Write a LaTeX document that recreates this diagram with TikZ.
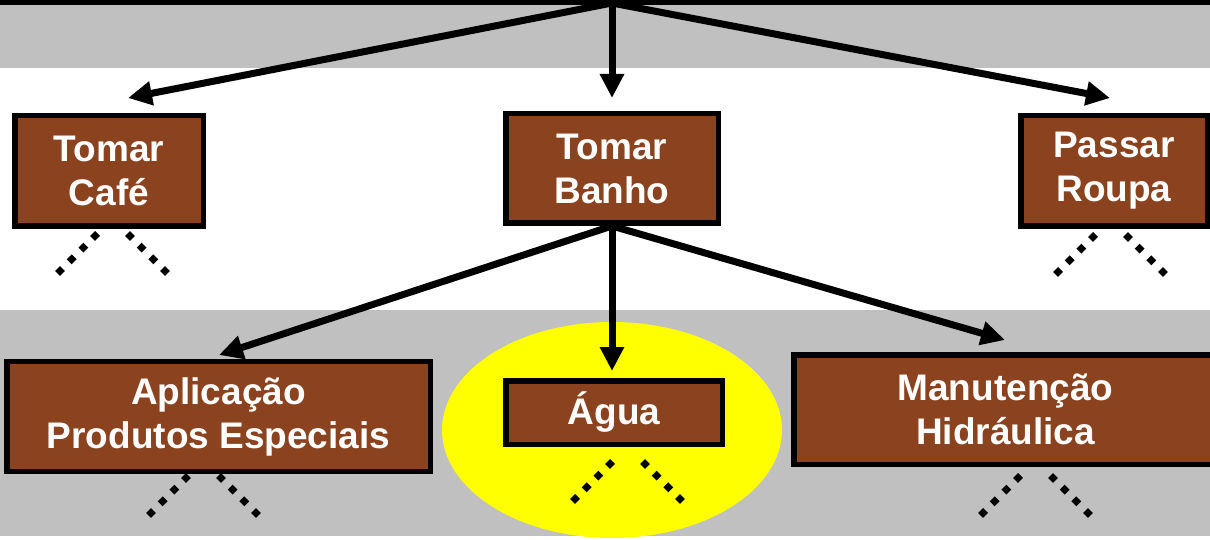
\documentclass[tikz,border=0pt]{standalone}
\usepackage{fontspec}
\setmainfont{Liberation Sans}
\usetikzlibrary{arrows.meta}
\definecolor{bandgray}{RGB}{192,192,192}
\definecolor{boxbrown}{RGB}{139,67,31}
\definecolor{hiyellow}{RGB}{255,255,0}
\newcommand\dotvee[2]{%
  \draw[dotline] (#1+2.5,#2-2.5) -- ++(-40,40);
  \draw[dotline] (#1+32.5,#2-2.5) -- ++(40,40);}
\begin{document}
\begin{tikzpicture}[x=1pt,y=-1pt,
  box/.style={draw=black, line width=5.5pt, fill=boxbrown, text=white,
    font=\bfseries\fontsize{37}{44}\selectfont, align=center, inner sep=0pt},
  conn/.style={line width=7pt, -{Triangle[length=24pt,width=23pt]}},
  dotline/.style={line width=7pt, dash pattern=on 7pt off 9.5pt, line cap=butt}]
\useasboundingbox (0,0) rectangle (1210,540);
\fill[white] (0,0) rectangle (1210,540);
\fill[bandgray] (0,5) rectangle (1210,68);
\fill[bandgray] (0,310) rectangle (1210,536);
\fill[black] (0,0) rectangle (1210,5);
\fill[hiyellow] (612,430) ellipse [x radius=170pt, y radius=108pt];

\node[box, minimum width=188.5pt, minimum height=110.5pt] (cafe) at (109,171) {Tomar\\Café};
\node[box, minimum width=212.5pt, minimum height=109.5pt] (banho) at (612,168.5) {Tomar\\Banho};
\node[box, minimum width=186.5pt, minimum height=110.5pt] (roupa) at (1114,171) {Passar\\Roupa};
\node[box, minimum width=423.5pt, minimum height=110pt] (aplic) at (218.5,416.5) {Aplicação\\Produtos Especiais};
\node[box, minimum width=216.5pt, minimum height=63.5pt] (agua) at (614,412.5) {Água};
\node[box, minimum width=423.5pt, minimum height=109.5pt] (manut) at (1005.5,409.5) {Manutenção\\Hidráulica};

\coordinate (top) at (612,3);
\coordinate (tcafe) at (128,98);
\coordinate (tbanho) at (612,98);
\coordinate (troupa) at (1110,98);
\coordinate (taplic) at (219,355);
\coordinate (tagua) at (612,371);
\coordinate (tmanut) at (1005,340);

\draw[conn] (top) -- (tcafe);
\draw[conn] (top) -- (tbanho);
\draw[conn] (top) -- (troupa);
\draw[conn] (banho.south) -- (taplic);
\draw[conn] (banho.south) -- (tagua);
\draw[conn] (banho.south) -- (tmanut);

\dotvee{95}{236}
\dotvee{1093}{237}
\dotvee{186}{478}
\dotvee{610}{464}
\dotvee{1018}{478}
\end{tikzpicture}
\end{document}
